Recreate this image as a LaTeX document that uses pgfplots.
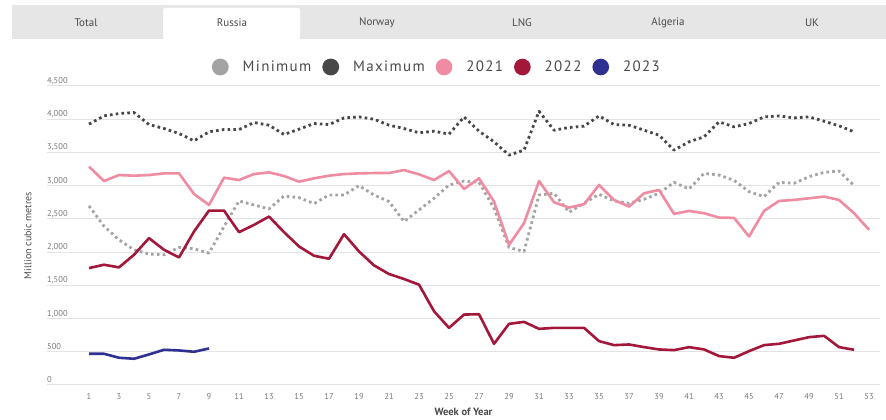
\documentclass[border=0pt]{standalone}
\usepackage{pgfplots}
\pgfplotsset{compat=1.18}
\usepackage{pgfplotstable}
\usepackage{fontspec}
\setmainfont{PT Sans}
\setsansfont{PT Sans}
\definecolor{cmin}{HTML}{A3A3A3}
\definecolor{cmax}{HTML}{474747}
\definecolor{c21}{HTML}{F08CA2}
\definecolor{c22}{HTML}{A3173A}
\definecolor{c23}{HTML}{2E3192}
\definecolor{tabgray}{HTML}{E6E6E6}
\definecolor{gridc}{HTML}{E3E3E3}
\definecolor{tickc}{HTML}{7A7A7A}
\definecolor{txt}{HTML}{4A4A4A}

\pgfplotstableread{
week min max y21 y22
1 2695 3925 3285 1760
2 2390 4050 3070 1810
3 2185 4085 3160 1770
4 2035 4100 3150 1960
5 1970 3920 3160 2210
6 1960 3860 3185 2035
7 2070 3785 3185 1920
8 2050 3675 2875 2310
9 1985 3810 2710 2625
10 2385 3845 3120 2625
11 2770 3845 3085 2300
12 2710 3950 3175 2410
13 2650 3910 3200 2535
14 2845 3770 3145 2300
15 2820 3850 3060 2085
16 2730 3935 3110 1945
17 2860 3920 3150 1900
18 2860 4020 3175 2270
19 3000 4035 3185 2010
20 2860 4000 3190 1800
21 2760 3910 3190 1670
22 2460 3860 3235 1595
23 2635 3795 3170 1510
24 2810 3820 3085 1110
25 3010 3775 3220 860
26 3070 4035 2950 1060
27 3050 3820 3110 1065
28 2660 3660 2760 620
29 2070 3460 2110 920
30 2010 3535 2435 950
31 2860 4120 3070 845
32 2885 3835 2750 860
33 2600 3875 2670 860
34 2735 3895 2720 860
35 2870 4050 3010 660
36 2770 3920 2785 600
37 2735 3910 2685 610
38 2795 3835 2885 570
39 2885 3760 2935 535
40 3050 3535 2575 525
41 2950 3660 2620 570
42 3185 3735 2585 535
43 3160 3960 2520 435
44 3080 3885 2515 410
45 2910 3935 2235 510
46 2835 4035 2620 600
47 3050 4050 2770 620
48 3035 4020 2785 670
49 3135 4035 2810 720
50 3200 3970 2835 740
51 3220 3900 2785 570
52 3000 3810 2585 530
53 nan nan 2335 nan
}\datatab

\pgfplotstableread{
week y23
1 470
2 470
3 410
4 395
5 460
6 530
7 520
8 500
9 550
}\datatwo

\begin{document}
\begin{tikzpicture}[x=1pt,y=1pt]
\path[use as bounding box] (0,0) rectangle (886,420);
\fill[white] (0,0) rectangle (886,420);
% tab bar
\fill[tabgray] (12,381) rectangle (886,415);
\fill[white,rounded corners=2pt] (163,381) -- (163,412) -- (300,412) -- (300,381) -- cycle;
\begin{scope}[every node/.style={font=\fontsize{11}{13}\selectfont, text=txt}]
\node at (86,397) {Total};
\node at (232,397) {Russia};
\node at (377,397) {Norway};
\node at (522,397) {LNG};
\node at (668,397) {Algeria};
\node at (812,397) {UK};
\end{scope}
\begin{axis}[
  at={(47pt,35pt)}, anchor=south west,
  scale only axis, width=833pt, height=299pt,
  xmin=-1.8, xmax=53.73, ymin=0, ymax=4500,
  axis line style={draw=none},
  tick style={draw=none},
  ytick={0,500,...,4500},
  xtick={1,3,...,53},
  ymajorgrids, major grid style={gridc, line width=1pt},
  /pgf/number format/assume math mode=true,
  /pgf/number format/1000 sep={,},
  yticklabel style={font=\fontsize{8.5}{10}\selectfont, text=tickc, anchor=base west, inner sep=0pt, xshift=0pt, yshift=2.5pt},
  xticklabel style={font=\fontsize{8.5}{10}\selectfont, text=tickc, yshift=-5pt},
  xlabel={\textbf{Week of Year}},
  xlabel style={font=\fontsize{10.5}{12}\selectfont, text=txt, yshift=-2pt},
  ylabel={Million cubic metres},
  ylabel style={font=\fontsize{10}{12}\selectfont, text=txt, at={(axis description cs:-0.0144,0.5)}, anchor=south},
  legend columns=5,
  legend style={at={(0.468,1.0635)}, anchor=center, draw=none, fill=none,
     font=\fontsize{15}{17}\selectfont\addfontfeature{LetterSpace=9}, text=txt,
     /tikz/every odd column/.style={column sep=12pt},
     /tikz/every even column/.style={column sep=9pt}},
  legend image code/.code={\fill[#1, solid] (6pt,0pt) circle (7pt);},
  every axis plot/.append style={line join=round},
]
\addplot[cmin, line width=2.8pt, dash pattern=on 2.6pt off 3.2pt] table[x=week,y=min]{\datatab};
\addlegendentry{Minimum}
\addplot[cmax, line width=2.8pt, dash pattern=on 2.6pt off 3.2pt] table[x=week,y=max]{\datatab};
\addlegendentry{Maximum}
\addplot[c21, line width=2.6pt] table[x=week,y=y21]{\datatab};
\addlegendentry{2021}
\addplot[c22, line width=2.6pt] table[x=week,y=y22]{\datatab};
\addlegendentry{2022}
\addplot[c23, line width=2.6pt] table[x=week,y=y23]{\datatwo};
\addlegendentry{2023}
\end{axis}
\end{tikzpicture}
\end{document}
